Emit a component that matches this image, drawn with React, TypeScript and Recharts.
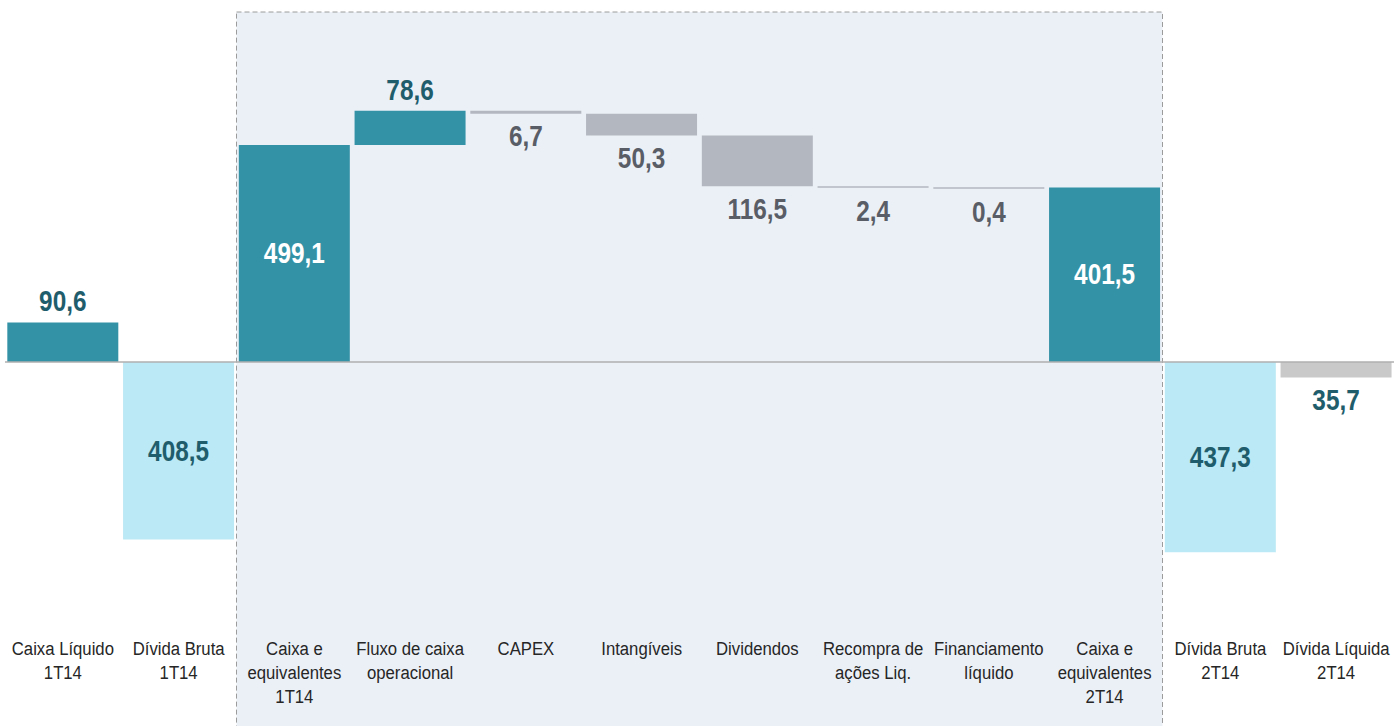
import { Bar, BarChart, Cell, LabelList, ReferenceArea, ReferenceLine, XAxis, YAxis } from "recharts";

const categories = [
  "Caixa Líquido\n1T14",
  "Dívida Bruta\n1T14",
  "Caixa e\nequivalentes\n1T14",
  "Fluxo de caixa\noperacional",
  "CAPEX",
  "Intangíveis",
  "Dividendos",
  "Recompra de\nações Liq.",
  "Financiamento\nlíquido",
  "Caixa e\nequivalentes\n2T14",
  "Dívida Bruta\n2T14",
  "Dívida Líquida\n2T14",
];
const values = [90.6, -408.5, 499.1, 78.6, -6.7, -50.3, -116.5, -2.4, -0.4, 401.5, -437.3, -35.7];
// "total" bars start at zero, "step" bars continue from the running cash balance
const kinds = ["total", "total", "total", "step", "step", "step", "step", "step", "step", "total", "total", "total"];
const groups = ["cash", "debt", "cash", "cash", "out", "out", "out", "out", "out", "cash", "debt", "net"];

const barColors: Record<string, string> = {
  cash: "#3392A6",
  debt: "#BBE9F5",
  out: "#B3B7BF",
  net: "#C9C9C9",
};

// narrow look: Arial-metric font squeezed horizontally
const FONT = "'Liberation Sans', Arial, sans-serif";

let running = 0;
const data = categories.map((name, i) => {
  const v = values[i];
  let range: [number, number];
  if (kinds[i] === "total") {
    range = [0, v];
    running = v;
  } else {
    range = [running, running + v];
    running += v;
  }
  return { name, range };
});

const fmt = (v: number) => Math.abs(v).toFixed(1).replace(".", ",");

const renderLabel = (props: any) => {
  const vb = props.viewBox ?? props;
  const { x, y, width, height } = vb;
  const index = props.index;
  const v = values[index];
  const top = Math.min(y, y + height);
  const bottom = Math.max(y, y + height);
  const cx = x + width / 2;
  const inside = kinds[index] === "total" && Math.abs(v) >= 100;
  let cy: number;
  if (inside) cy = (top + bottom) / 2;
  else if (v > 0) cy = top - 21;
  else cy = bottom + 23;
  let fill = "#1F5D6C";
  if (groups[index] === "out") fill = "#595D66";
  if (inside && groups[index] === "cash") fill = "#FFFFFF";
  return (
    <text
      transform={`translate(${cx},${cy}) scale(0.84,1)`}
      x={0}
      y={0}
      textAnchor="middle"
      dominantBaseline="central"
      fontFamily={FONT}
      fontWeight="bold"
      fontSize={29}
      fill={fill}
    >
      {fmt(v)}
    </text>
  );
};

const CategoryTick = ({ x, y, payload }: any) => {
  const lines = String(payload.value).split("\n");
  return (
    <text
      transform={`translate(${x},${y + 43}) scale(0.88,1)`}
      x={0}
      y={0}
      textAnchor="middle"
      fontFamily={FONT}
      fontSize={19}
      fill="#262626"
    >
      {lines.map((line, i) => (
        <tspan key={i} x={0} dy={i === 0 ? 0 : 24}>
          {line}
        </tspan>
      ))}
    </text>
  );
};

export default function App() {
  return (
    <div style={{ position: "absolute", left: 0, top: 0, background: "#fff" }}>
      <BarChart
        width={1396}
        height={726}
        data={data}
        margin={{ top: 12, right: 2, bottom: 0, left: 5 }}
        barCategoryGap="2%"
      >
        <ReferenceArea
          x1={categories[2]}
          x2={categories[9]}
          y1={-900}
          y2={805}
          ifOverflow="visible"
          fill="#EBF0F7"
          fillOpacity={1}
          stroke="#9C9C9C"
          strokeDasharray="5 3"
        />
        <XAxis
          dataKey="name"
          interval={0}
          height={114}
          axisLine={false}
          tickLine={false}
          tickSize={0}
          tickMargin={0}
          tick={<CategoryTick />}
        />
        <YAxis hide domain={[-575, 805]} allowDataOverflow />
        <ReferenceLine y={0} stroke="#AFAFAF" strokeWidth={1.5} />
        <Bar dataKey="range" isAnimationActive={false} minPointSize={1.5}>
          {data.map((d, i) => (
            <Cell key={d.name} fill={barColors[groups[i]]} />
          ))}
          <LabelList dataKey="range" content={renderLabel} />
        </Bar>
      </BarChart>
    </div>
  );
}
